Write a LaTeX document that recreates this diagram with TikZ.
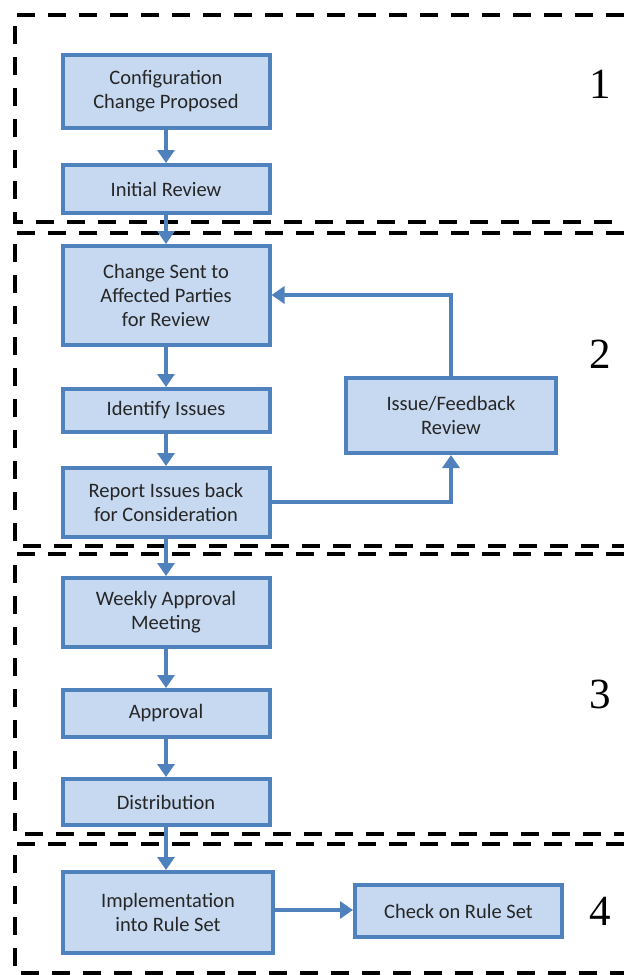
\documentclass[tikz,border=0pt]{standalone}
\usepackage{fontspec}
\setmainfont{Carlito}
\newfontfamily\numfont{Liberation Serif}
\usetikzlibrary{arrows.meta}
\definecolor{boxfill}{HTML}{C6D9F1}
\definecolor{boxline}{HTML}{4F81BD}
\definecolor{txt}{HTML}{262626}
\begin{document}
\begin{tikzpicture}[x=1pt,y=-1pt,
  stepbox/.style={draw=boxline, fill=boxfill, line width=4pt, inner sep=0pt,
    align=center, text=txt, font=\fontsize{20.5}{24}\selectfont},
  flow/.style={draw=boxline, line width=4.5pt,
    -{Triangle[length=13pt,width=17pt]}},
  zone/.style={draw=black, line width=3.5pt, dash pattern=on 18pt off 13pt},
  phase/.style={font=\fontsize{43}{43}\selectfont\numfont, text=black}]
\useasboundingbox (0,0) rectangle (624,975);

% phase frames, open on the right
\draw[zone] (624,15) -- (15,15) -- (15,222) -- (624,222);
\draw[zone] (624,233) -- (15,233) -- (15,546) -- (624,546);
\draw[zone] (624,554) -- (15,554) -- (15,834) -- (624,834);
\draw[zone] (624,844) -- (15,844) -- (15,973) -- (624,973);

% phase numbers
\node[phase] (n1) at (600,84) {1};
\node[phase] (n2) at (600,354) {2};
\node[phase] (n3) at (600,694) {3};
\node[phase] (n4) at (600,911) {4};

% process steps
\node[stepbox, minimum width=207pt, minimum height=73pt] (cfg) at (166,91.5) {Configuration\\Change Proposed};
\node[stepbox, minimum width=207pt, minimum height=48pt] (init) at (166,189) {Initial Review};
\node[stepbox, minimum width=207pt, minimum height=99pt] (sent) at (166,295.5) {Change Sent to\\Affected Parties\\for Review};
\node[stepbox, minimum width=207pt, minimum height=43pt] (ident) at (166,410.5) {Identify Issues};
\node[stepbox, minimum width=207pt, minimum height=69pt] (report) at (166,502.5) {Report Issues back\\for Consideration};
\node[stepbox, minimum width=210pt, minimum height=75pt] (fb) at (451,415.5) {Issue/Feedback\\Review};
\node[stepbox, minimum width=207pt, minimum height=69pt] (weekly) at (166,612.5) {Weekly Approval\\Meeting};
\node[stepbox, minimum width=207pt, minimum height=47pt] (appr) at (166,713.5) {Approval};
\node[stepbox, minimum width=207pt, minimum height=46pt] (dist) at (166,802) {Distribution};
\node[stepbox, minimum width=210pt, minimum height=81pt] (impl) at (168,912.5) {Implementation\\into Rule Set};
\node[stepbox, minimum width=207pt, minimum height=52pt] (check) at (458.5,911) {Check on Rule Set};

% connectors
\draw[flow] (cfg) -- (init);
\draw[flow] (init) -- (sent);
\draw[flow] (sent) -- (ident);
\draw[flow] (ident) -- (report);
\draw[flow] (report.east |- 0,502) -| (fb.south);
\draw[flow] (fb.north) |- (sent.east |- 0,295);
\draw[flow] (report) -- (weekly);
\draw[flow] (weekly) -- (appr);
\draw[flow] (appr) -- (dist);
\draw[flow] (dist.south) -- (dist.south |- impl.north);
\draw[flow] (impl.east |- 0,910) -- (check.west |- 0,910);
\end{tikzpicture}
\end{document}
